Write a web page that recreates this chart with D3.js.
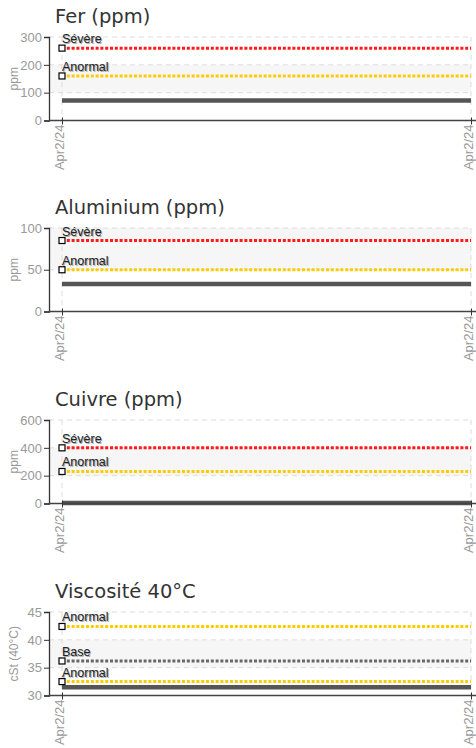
<!DOCTYPE html>
<html>
<head>
<meta charset="utf-8">
<script src="https://cdn.jsdelivr.net/npm/d3@7"></script>
<style>
  body { margin: 0; background: #fff; }
  svg text { font-family: "Liberation Sans", Arial, sans-serif; }
  .title { font-family: "DejaVu Sans", sans-serif; font-size: 19.5px; fill: #333; }
  .tick text { fill: #999; font-size: 13px; }
  .ytitle { fill: #999; font-size: 12px; }
  .lim { font-size: 12.5px; fill: #222; }
  .limsh { font-size: 12.5px; fill: #aaa; }
</style>
</head>
<body>
<svg id="chart" width="476" height="748"></svg>
<script>
// one entry per panel
var titles = ["Fer (ppm)", "Aluminium (ppm)", "Cuivre (ppm)", "Viscosité 40°C"];
var yTitles = ["ppm", "ppm", "ppm", "cSt (40°C)"];
var yTicks = [[0, 100, 200, 300], [0, 50, 100], [0, 200, 400, 600], [30, 35, 40, 45]];
var dates = ["Apr2/24", "Apr2/24"];
var values = [[72, 72], [33, 33], [4, 4], [31.5, 31.5]];

// limit lines per panel
var limitNames = [
    ["Sévère", "Anormal"],
    ["Sévère", "Anormal"],
    ["Sévère", "Anormal"],
    ["Anormal", "Base", "Anormal"]
];
var limitValues = [
    [260, 160],
    [85, 50],
    [400, 230],
    [42.4, 36.2, 32.5]
];
var limitColors = {"Sévère": "#ff1a1a", "Anormal": "#ffcc00", "Base": "#666"};

var svg = d3.select("#chart");
var panelTop = [0, 191, 383, 575];
var plotLeft = 49, plotRight = 471, plotTop = 37, plotBottom = 120.5;

var x = d3.scaleLinear().domain([0, dates.length - 1]).range([62, plotRight]);

titles.forEach(function (t, i) {
    var g = svg.append("g").attr("transform", "translate(0," + panelTop[i] + ")");
    var ticks = yTicks[i];
    var y = d3.scaleLinear().domain([ticks[0], ticks[ticks.length - 1]]).range([plotBottom, plotTop]);

    g.append("text").attr("class", "title").attr("x", 55).attr("y", 23).text(t);

    // alternate bands
    for (var k = 1; k < ticks.length - 1; k += 2) {
        g.append("rect")
            .attr("x", plotLeft).attr("width", plotRight - plotLeft)
            .attr("y", y(ticks[k + 1])).attr("height", y(ticks[k]) - y(ticks[k + 1]))
            .attr("fill", "#f6f6f6");
    }

    // grid
    g.selectAll(".hg").data(ticks.slice(1)).enter().append("line")
        .attr("x1", plotLeft).attr("x2", plotRight)
        .attr("y1", function (d) { return y(d); }).attr("y2", function (d) { return y(d); })
        .attr("stroke", "#ddd").attr("stroke-dasharray", "5,4");
    g.selectAll(".vg").data(d3.range(dates.length)).enter().append("line")
        .attr("x1", function (d) { return x(d); }).attr("x2", function (d) { return x(d); })
        .attr("y1", plotTop).attr("y2", plotBottom)
        .attr("stroke", "#ddd").attr("stroke-dasharray", "5,4");

    // y axis
    var ya = g.append("g").attr("transform", "translate(" + plotLeft + ",0)")
        .call(d3.axisLeft(y).tickValues(ticks).tickSize(5).tickPadding(2));
    ya.select(".domain").attr("stroke", "#333").attr("stroke-width", 1.3);
    ya.selectAll(".tick line").attr("stroke", "#333");

    g.append("text").attr("class", "ytitle")
        .attr("transform", "translate(18," + ((plotTop + plotBottom) / 2) + ") rotate(-90)")
        .attr("text-anchor", "middle").text(yTitles[i]);

    // data line
    var line = d3.line().x(function (d, j) { return x(j); }).y(function (d) { return y(d); });
    g.append("path").datum(values[i]).attr("d", line)
        .attr("fill", "none").attr("stroke", "#555").attr("stroke-width", 4.5);

    // limit lines
    limitValues[i].forEach(function (v, j) {
        var name = limitNames[i][j];
        g.append("path").datum([v, v]).attr("d", line)
            .attr("fill", "none").attr("stroke", limitColors[name])
            .attr("stroke-width", 3).attr("stroke-dasharray", "3,1.8");
        g.append("rect")
            .attr("x", x(0) - 3).attr("y", y(v) - 3).attr("width", 6).attr("height", 6)
            .attr("fill", "#fff").attr("stroke", "#000").attr("stroke-width", 1.2);
        g.append("text").attr("class", "limsh").attr("x", x(0) + 1).attr("y", y(v) - 4).text(name);
        g.append("text").attr("class", "lim").attr("x", x(0)).attr("y", y(v) - 5).text(name);
    });

    // x axis
    var xa = g.append("g").attr("transform", "translate(0," + plotBottom + ")")
        .call(d3.axisBottom(x).tickValues(d3.range(dates.length))
            .tickFormat(function (d) { return dates[d]; }).tickSize(4).tickPadding(3));
    xa.select(".domain").attr("d", "M" + plotLeft + ",0H476").attr("stroke", "#444").attr("stroke-width", 1.5);
    xa.selectAll(".tick line").attr("stroke", "#333").attr("y1", -3);
    xa.selectAll(".tick text")
        .attr("transform", "rotate(-90)")
        .attr("text-anchor", "end")
        .attr("x", -4).attr("y", 0).attr("dy", "0.1em");
});
</script>
</body>
</html>
